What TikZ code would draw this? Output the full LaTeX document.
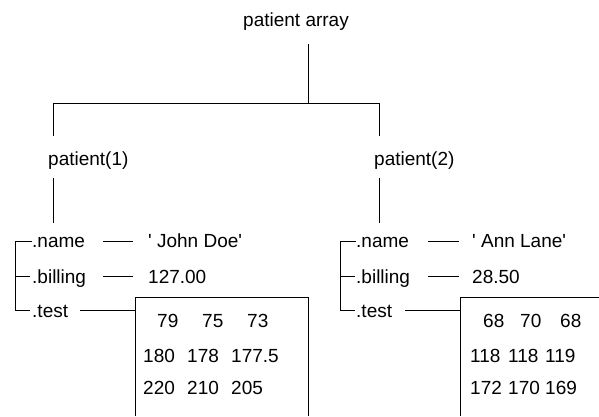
\documentclass[tikz,border=0pt]{standalone}
\usepackage{fontspec}
\setmainfont{Liberation Sans}
\begin{document}
\begin{tikzpicture}[x=1pt,y=-1pt,
  lbl/.style={inner sep=0pt, font=\fontsize{19}{23}\selectfont, anchor=base west},
  ln/.style={line width=1pt, draw=black}]
\useasboundingbox (0,0) rectangle (599,416);
% --- texts ---
\node[lbl] (root) at (243,26) {patient array};
\node[lbl] (p1) at (48,165) {patient(1)};
\node[lbl] (p2) at (374,165) {patient(2)};
% patient 1 fields
\node[lbl] (n1) at (32,247) {.name};
\node[lbl] (b1) at (32,283) {.billing};
\node[lbl] (t1) at (32,317) {.test};
\node[lbl] (vn1) at (148,247) {\textquotesingle\ John Doe\textquotesingle};
\node[lbl] (vb1) at (148,283) {127.00};
% patient 2 fields
\node[lbl] (n2) at (356,247) {.name};
\node[lbl] (b2) at (356,283) {.billing};
\node[lbl] (t2) at (356,317) {.test};
\node[lbl] (vn2) at (472,247) {\textquotesingle\ Ann Lane\textquotesingle};
\node[lbl] (vb2) at (472,283) {28.50};
% matrix 1
\node[lbl] (a11) at (157,327) {79};
\node[lbl] (a12) at (202,327) {75};
\node[lbl] (a13) at (247,327) {73};
\node[lbl] (a21) at (143,362) {180};
\node[lbl] (a22) at (187,362) {178};
\node[lbl] (a23) at (231,362) {177.5};
\node[lbl] (a31) at (143,394) {220};
\node[lbl] (a32) at (187,394) {210};
\node[lbl] (a33) at (231,394) {205};
% matrix 2
\node[lbl] (c11) at (483,327) {68};
\node[lbl] (c12) at (520,327) {70};
\node[lbl] (c13) at (560,327) {68};
\node[lbl] (c21) at (470,362) {118};
\node[lbl] (c22) at (508,362) {118};
\node[lbl] (c23) at (545,362) {119};
\node[lbl] (c31) at (470,394) {172};
\node[lbl] (c32) at (508,394) {170};
\node[lbl] (c33) at (545,394) {169};
% --- connector coordinates ---
\coordinate (rt) at (308,44);
\coordinate (bar) at (308,103);
\coordinate (p1t) at (53,136);
\coordinate (p2t) at (379,136);
\coordinate (p1b) at (53,178);
\coordinate (p1e) at (53,223);
\coordinate (p2b) at (379,178);
\coordinate (p2e) at (379,223);
% brackets
\coordinate (k1a) at (32,241);
\coordinate (k1c) at (15,241);
\coordinate (k1m) at (15,276);
\coordinate (k1n) at (30,276);
\coordinate (k1d) at (15,310);
\coordinate (k1e) at (30,310);
\coordinate (k2a) at (356,241);
\coordinate (k2c) at (340,241);
\coordinate (k2m) at (340,276);
\coordinate (k2n) at (355,276);
\coordinate (k2d) at (340,310);
\coordinate (k2e) at (355,310);
% dashes
\coordinate (d1a) at (103,241); \coordinate (d1b) at (133,241);
\coordinate (e1a) at (103,276); \coordinate (e1b) at (133,276);
\coordinate (f1a) at (80,310);  \coordinate (f1b) at (135,310);
\coordinate (d2a) at (428,241); \coordinate (d2b) at (459,241);
\coordinate (e2a) at (428,276); \coordinate (e2b) at (459,276);
\coordinate (f2a) at (405,310); \coordinate (f2b) at (460,310);
% boxes
\coordinate (bx1a) at (135,416); \coordinate (bx1b) at (135,297);
\coordinate (bx1c) at (308,297); \coordinate (bx1d) at (308,416);
\coordinate (bx2a) at (460,416); \coordinate (bx2b) at (460,297);
\coordinate (bx2c) at (599,297);
% --- lines ---
\draw[ln] (rt) -- (bar);
\draw[ln] (bar) -| (p1t);
\draw[ln] (bar) -| (p2t);
\draw[ln] (p1b) -- (p1e);
\draw[ln] (p2b) -- (p2e);
\draw[ln] (k1a) -- (k1c) -- (k1d) -- (k1e);
\draw[ln] (k1m) -- (k1n);
\draw[ln] (k2a) -- (k2c) -- (k2d) -- (k2e);
\draw[ln] (k2m) -- (k2n);
\draw[ln] (d1a) -- (d1b);
\draw[ln] (e1a) -- (e1b);
\draw[ln] (f1a) -- (f1b);
\draw[ln] (d2a) -- (d2b);
\draw[ln] (e2a) -- (e2b);
\draw[ln] (f2a) -- (f2b);
\draw[ln] (bx1a) -- (bx1b) -- (bx1c) -- (bx1d);
\draw[ln] (bx2a) -- (bx2b) -- (bx2c);
\end{tikzpicture}
\end{document}
